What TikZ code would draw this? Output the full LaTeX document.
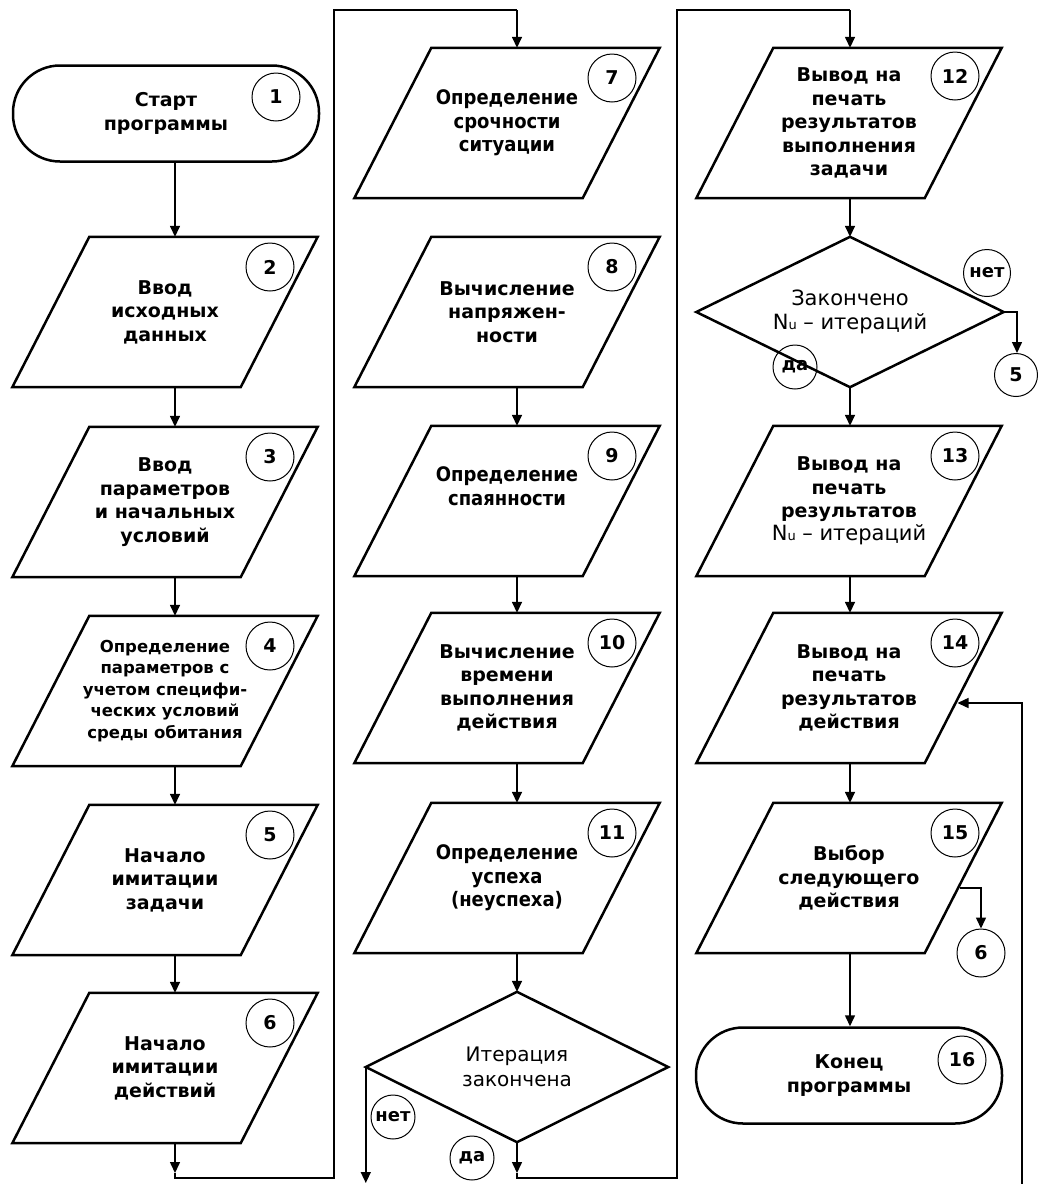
\documentclass[tikz,border=0pt]{standalone}
\usepackage{fontspec}
\setmainfont{DejaVu Sans}
\newfontfamily\cf[FakeStretch=0.9]{DejaVu Sans}
\usetikzlibrary{arrows.meta,calc}
\tikzset{
  pbox/.style={minimum width=228pt, minimum height=150pt, inner sep=0pt, align=center,
    font=\fontsize{19}{23.5}\selectfont\bfseries},
  pedge/.style={line width=2.5pt, line join=miter},
  term/.style={draw, line width=2.5pt, rounded corners=47pt, minimum width=306pt,
    minimum height=96pt, inner sep=0pt, align=center, font=\fontsize{19}{23.5}\selectfont\bfseries},
  numc/.style={draw, circle, line width=1pt, minimum size=48pt, inner sep=0pt,
    font=\fontsize{19}{19}\selectfont\bfseries},
  lab/.style={draw, circle, line width=1pt, minimum size=44pt, inner sep=0pt,
    font=\fontsize{18}{18}\selectfont\bfseries},
  conn/.style={line width=1.5pt},
  arr/.style={conn, -{Triangle[length=11pt,width=10pt]}},
  cond/.style={font=\cf\fontsize{20}{23.5}\selectfont\bfseries},
}
\newcommand\pgram[5]{%
  \node[pbox,#4] (#1) at (#2,#3+75) {#5};
  \draw[pedge] ($(#1.north west)+(38.5,0)$) -- ($(#1.north east)+(38.5,0)$)
    -- ($(#1.south east)+(-38.5,0)$) -- ($(#1.south west)+(-38.5,0)$) -- cycle;
}
\newcommand\dmd[6]{%
  \node[inner sep=0pt, minimum width=#4, minimum height=150pt, align=center, #5] (#1) at (#2,#3) {#6};
  \draw[pedge] (#1.north) -- (#1.east) -- (#1.south) -- (#1.west) -- cycle;
}
\newcommand\Nu{N{\fontsize{13}{13}\selectfont u}}
\begin{document}
\begin{tikzpicture}[x=1pt,y=-1pt]
\useasboundingbox (0,0) rectangle (1038,1184);
\coordinate (ax1) at (175,0);
\coordinate (ax2) at (517,0);
\coordinate (ax3) at (850,0);

% column 1
\node[term] (t1) at (166,113.5) {Старт\\программы};
\pgram{b2}{165}{237}{}{Ввод\\исходных\\данных}
\pgram{b3}{165}{427}{}{Ввод\\параметров\\и начальных\\условий}
\pgram{b4}{165}{616}{font=\fontsize{16.5}{21.5}\selectfont\bfseries}{Определение\\параметров с\\учетом специфи-\\ческих условий\\среды обитания}
\pgram{b5}{165}{805}{}{Начало\\имитации\\задачи}
\pgram{b6}{165}{993}{}{Начало\\имитации\\действий}

% column 2
\pgram{b7}{507}{48}{cond}{Определение\\срочности\\ситуации}
\pgram{b8}{507}{237}{}{Вычисление\\напряжен-\\ности}
\pgram{b9}{507}{426}{cond}{Определение\\спаянности\\[6pt]}
\pgram{b10}{507}{613}{}{Вычисление\\времени\\выполнения\\действия}
\pgram{b11}{507}{803}{cond}{Определение\\успеха\\(неуспеха)}
\dmd{d1}{517}{1067}{302pt}{font=\fontsize{20}{24.5}\selectfont}{Итерация\\закончена}

% column 3
\pgram{b12}{849}{48}{}{Вывод на\\печать\\результатов\\выполнения\\задачи}
\dmd{d2}{850}{312}{307pt}{font=\fontsize{21}{24}\selectfont}{Закончено\\\Nu{} -- итераций}
\pgram{b13}{849}{426}{}{Вывод на\\печать\\результатов\\{\mdseries\fontsize{21}{23.5}\selectfont \Nu{} -- итераций}}
\pgram{b14}{849}{613}{}{Вывод на\\печать\\результатов\\действия}
\pgram{b15}{849}{803}{}{Выбор\\следующего\\действия}
\node[term] (t16) at (849,1075.5) {Конец\\программы};

% number circles
\node[numc] (n1) at (276,97) {1};
\node[numc] (n2) at (270,267) {2};
\node[numc] (n3) at (270,457) {3};
\node[numc] (n4) at (270,646) {4};
\node[numc] (n5) at (270,835) {5};
\node[numc] (n6) at (270,1023) {6};
\node[numc] (n7) at (612,78) {7};
\node[numc] (n8) at (612,267) {8};
\node[numc] (n9) at (612,456) {9};
\node[numc] (n10) at (612,643) {10};
\node[numc] (n11) at (612,833) {11};
\node[numc] (n12) at (955,76) {12};
\node[numc] (n13) at (955,456) {13};
\node[numc] (n14) at (955,643) {14};
\node[numc] (n15) at (955,833) {15};
\node[numc] (n16) at (962,1060) {16};

% connector circles and labels
\node[numc, minimum size=43pt] (c5) at (1016,375) {5};
\node[numc] (c6) at (981,953) {6};
\node[lab] (l1) at (393,1117) {нет};
\node[lab] (l2) at (472,1158) {да};
\node[lab, minimum size=47pt] (l3) at (987,273) {нет};
\node[lab] (l4) at (795,367) {да};

% column 1 flow
\draw[arr] (t1.south -| ax1) -- (b2.north -| ax1);
\draw[arr] (b2.south -| ax1) -- (b3.north -| ax1);
\draw[arr] (b3.south -| ax1) -- (b4.north -| ax1);
\draw[arr] (b4.south -| ax1) -- (b5.north -| ax1);
\draw[arr] (b5.south -| ax1) -- (b6.north -| ax1);
\coordinate (k1) at (175,1173);
\coordinate (k2) at (175,1178);
\coordinate (k3) at (334,1178);
\coordinate (k4) at (334,10);
\coordinate (k5) at (517,10);
\draw[arr] (b6.south -| ax1) -- (k1);
\draw[conn] (k1) -- (k2) -- (k3) -- (k4) -- (k5);
\draw[arr] (k5) -- (b7.north -| ax2);

% column 2 flow
\draw[arr] (b8.south -| ax2) -- (b9.north -| ax2);
\draw[arr] (b9.south -| ax2) -- (b10.north -| ax2);
\draw[arr] (b10.south -| ax2) -- (b11.north -| ax2);
\draw[arr] (b11.south -| ax2) -- (d1.north);
\coordinate (bot) at (0,1183);
\draw[arr] (d1.west) -- (d1.west |- bot);
\coordinate (m1) at (517,1173);
\coordinate (m2) at (517,1178);
\coordinate (m3) at (677,1178);
\coordinate (m4) at (677,10);
\coordinate (m5) at (850,10);
\draw[arr] (d1.south) -- (m1);
\draw[conn] (m1) -- (m2) -- (m3) -- (m4) -- (m5);
\draw[arr] (m5) -- (b12.north -| ax3);

% column 3 flow
\draw[arr] (b12.south -| ax3) -- (d2.north);
\coordinate (e1) at (1017,312);
\draw[arr] (d2.east) -- (e1) -- (c5.north -| e1);
\draw[arr] (d2.south) -- (b13.north -| ax3);
\draw[arr] (b13.south -| ax3) -- (b14.north -| ax3);
\draw[arr] (b14.south -| ax3) -- (b15.north -| ax3);
\draw[arr] (b15.south -| ax3) -- (t16.north -| ax3);
\coordinate (f1) at (960,888);
\coordinate (f2) at (981,888);
\draw[arr] (f1) -- (f2) -- (c6.north);
\coordinate (g1) at (1022,1184);
\coordinate (g2) at (1022,703);
\coordinate (g3) at (957.5,703);
\draw[arr] (g1) -- (g2) -- (g3);
\end{tikzpicture}
\end{document}
